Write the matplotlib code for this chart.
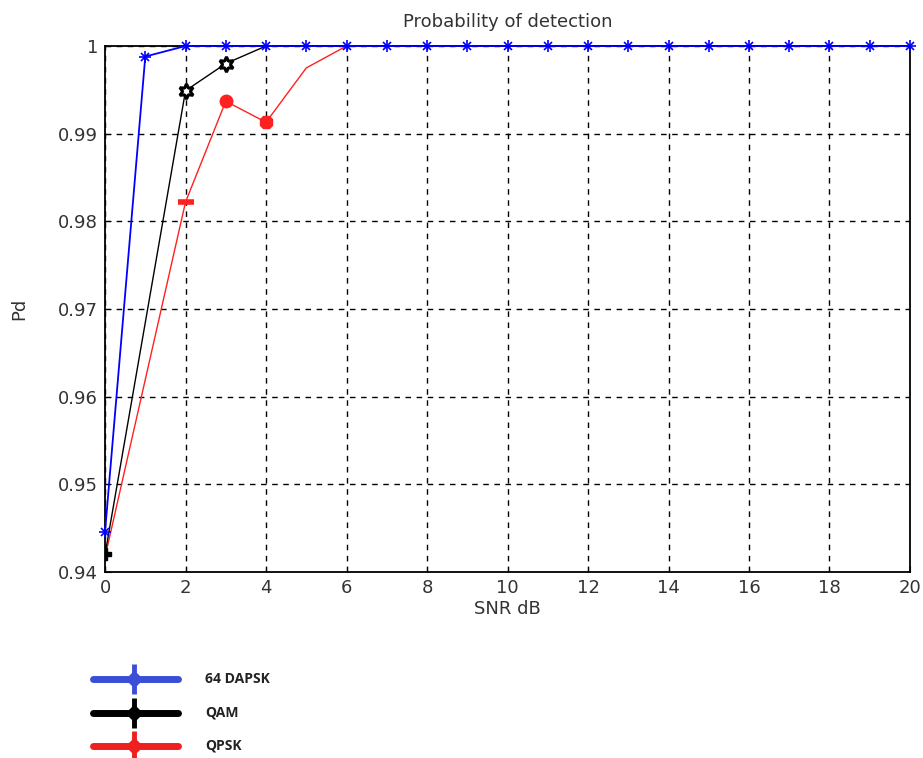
import matplotlib
matplotlib.use("Agg")
import matplotlib.pyplot as plt
from matplotlib.lines import Line2D
from matplotlib.ticker import FuncFormatter

plt.rcParams['font.family'] = ['DejaVu Sans']

snr = list(range(0, 21))
dapsk = [0.9446, 0.9988] + [1.0] * 19
qam_x = [0] + list(range(2, 21))
qam = [0.9420, 0.9949, 0.9980] + [1.0] * 17
qpsk_x = [0] + list(range(2, 21))
qpsk = [0.9417, 0.9822, 0.9937, 0.9913, 0.9975] + [1.0] * 15

legend_labels = ["64 DAPSK", "QAM", "QPSK"]
xticks = list(range(0, 21, 2))
yticks = [0.94, 0.95, 0.96, 0.97, 0.98, 0.99, 1.0]

fig = plt.figure(figsize=(9.23, 7.58), dpi=100)
ax = fig.add_axes([0.1138, 0.2454, 0.8721, 0.6939])

ax.plot(qpsk_x, qpsk, color='#ff2020', lw=1.0, zorder=3)
ax.plot(qpsk_x[1:2], qpsk[1:2], color='#ff2020', marker='_', ms=12, mew=4, ls='none', zorder=3)
ax.plot(qpsk_x[2:3], qpsk[2:3], color='#ff2020', marker='o', ms=9, ls='none', zorder=3)
ax.plot(qpsk_x[3:4], qpsk[3:4], color='#ff2020', marker='8', ms=10, ls='none', zorder=3)
ax.plot(qam_x, qam, color='black', lw=1.0, zorder=4)
ax.plot(qam_x[:1], qam[:1], color='black', marker='P', ms=9, ls='none', zorder=4)
ax.plot(qam_x[1:3], qam[1:3], color='black', marker=(6, 1, 0), ms=11, mew=2.2,
        mfc='white', mec='black', ls='none', zorder=4)
ax.plot(snr, dapsk, color='blue', lw=1.3, zorder=5)
ax.plot(snr, dapsk, color='blue', marker='+', ms=8, mew=1.2, ls='none', zorder=5, clip_on=False)
ax.plot(snr, dapsk, color='blue', marker='x', ms=5.5, mew=1.2, ls='none', zorder=5, clip_on=False)

ax.set_xlim(0, 20)
ax.set_ylim(0.94, 1.0)
ax.set_xticks(xticks)
ax.set_yticks(yticks)
ax.yaxis.set_major_formatter(FuncFormatter(lambda v, p: '1' if abs(v - 1) < 1e-9 else f'{v:.2f}'))
ax.tick_params(direction='in', labelsize=13, colors='black', labelcolor='#333333',
               length=4, top=False, right=False, pad=5)
ax.grid(True, color='black', ls=(0, (4, 4)), lw=1.0)
for s in ax.spines.values():
    s.set_linewidth(1.3)
    s.set_color('black')
ax.set_xlabel('SNR dB', fontsize=13, color='#333333', labelpad=2)
ax.set_ylabel('Pd', fontsize=13, color='#333333')
ax.yaxis.set_label_coords(-0.095, 0.5)
ax.set_title('Probability of detection', fontsize=13, color='#333333', pad=14)

# legend drawn below the axes
leg_colors = ['#3a4fd6', 'black', '#ee2020']
for i, (lab, c) in enumerate(zip(legend_labels, leg_colors)):
    yy = 1 - (679 + i * 33.5) / 758
    fig.add_artist(Line2D([0.101, 0.193], [yy, yy], color=c, lw=5,
                          solid_capstyle='round', transform=fig.transFigure))
    fig.add_artist(Line2D([0.145], [yy], color=c, marker='|', ms=22, mew=3.5,
                          transform=fig.transFigure))
    fig.add_artist(Line2D([0.145], [yy], color=c, marker='D', ms=8,
                          transform=fig.transFigure))
    fig.text(0.222, yy, lab, fontsize=10, fontweight='bold', va='center',
             ha='left', color='#222222', family=['Open Sans', 'DejaVu Sans'])

fig.savefig('out.png', dpi=100)
